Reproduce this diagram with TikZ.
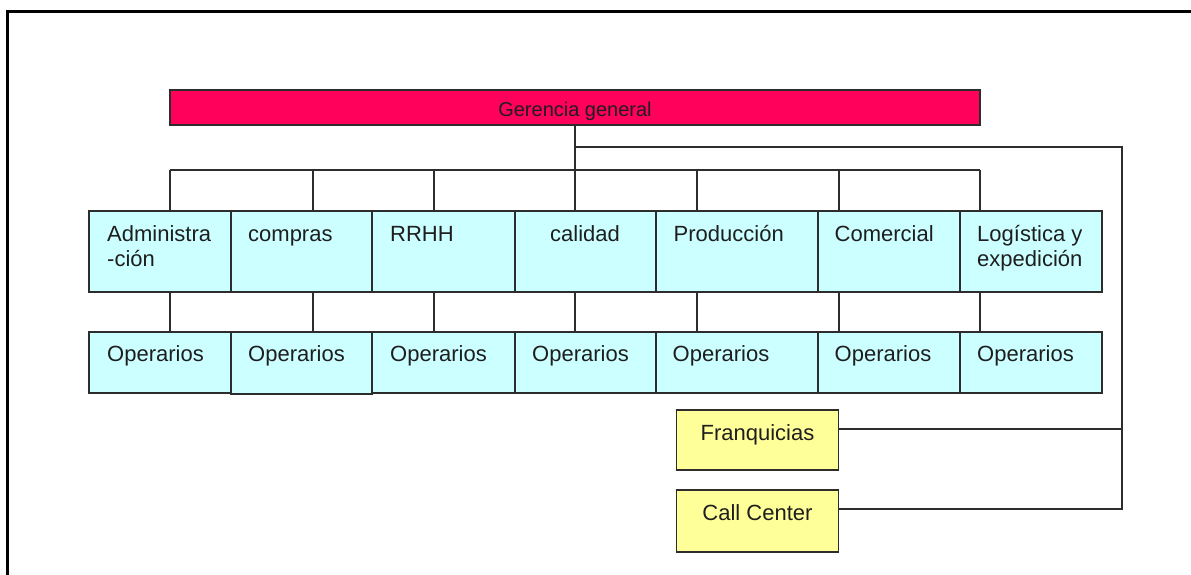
\documentclass[tikz,border=0pt]{standalone}
\usepackage{fontspec}
\setmainfont{Liberation Sans}
\usetikzlibrary{calc}
\definecolor{ger}{RGB}{255,0,90}
\definecolor{cy}{RGB}{204,255,255}
\definecolor{ye}{RGB}{255,255,153}
\definecolor{ln}{RGB}{45,45,45}
\definecolor{tx}{RGB}{30,30,30}
\begin{document}
\begin{tikzpicture}[x=1pt,y=-1pt,
  bx/.style={draw=ln, line width=1.6pt, inner sep=0pt, minimum height=#1},
  cbox/.style={bx=81pt, fill=cy},
  obox/.style={bx=61pt, fill=cy},
  ybox/.style={bx=61pt, fill=ye, minimum width=162pt},
  lbl/.style={anchor=base west, inner sep=0pt, text=tx, font=\fontsize{22}{25}\selectfont},
  conn/.style={draw=ln, line width=1.6pt}
]
\useasboundingbox (0,0) rectangle (1191,575);
\fill[white] (0,0) rectangle (1191,575);
\draw[line width=3pt, black] (7,580) -- (7,12) -- (1195,12);

% top box
\node[bx=35pt, fill=ger, minimum width=810pt] (ger) at (575,107.5) {};
\node[anchor=base, inner sep=0pt, text=tx, font=\fontsize{20}{22}\selectfont] (gert) at (575,117) {Gerencia general};

% row 1
\node[cbox, minimum width=142pt] (adm) at (160,251.5) {};
\node[cbox, minimum width=141pt] (com) at (301.5,251.5) {};
\node[cbox, minimum width=143pt] (rrh) at (443.5,251.5) {};
\node[cbox, minimum width=141pt] (cal) at (585.5,251.5) {};
\node[cbox, minimum width=162pt] (pro) at (737,251.5) {};
\node[cbox, minimum width=142pt] (cml) at (889,251.5) {};
\node[cbox, minimum width=142pt] (log) at (1031,251.5) {};

% row 2
\node[obox, minimum width=142pt] (o1) at (160,362.5) {};
\node[obox, minimum width=143pt] (o3) at (443.5,362.5) {};
\node[obox, minimum width=141pt] (o4) at (585.5,362.5) {};
\node[obox, minimum width=162pt] (o5) at (737,362.5) {};
\node[obox, minimum width=142pt] (o6) at (889,362.5) {};
\node[obox, minimum width=142pt] (o7) at (1031,362.5) {};
\node[bx=62pt, fill=cy, minimum width=141pt] (o2) at (301.5,363) {};

% yellow boxes
\node[ybox, minimum height=60pt] (fr) at (757.5,440) {};
\node[ybox, minimum height=62pt] (cc) at (757.5,521) {};

% labels row 1
\node[lbl] (t1a) at (107,241.5) {Administra};
\node[lbl] (t1b) at (107,266.5) {-ción};
\node[lbl] (t2) at (248,241.5) {compras};
\node[lbl] (t3) at (390,241.5) {RRHH};
\node[lbl] (t4) at (550,241.5) {calidad};
\node[lbl] (t5) at (673.5,241.5) {Producción};
\node[lbl] (t6) at (834.5,241.5) {Comercial};
\node[lbl] (t7a) at (977,241.5) {Logística y};
\node[lbl] (t7b) at (977,266.5) {expedición};

% labels row 2
\node[lbl] (u1) at (107,361.5) {Operarios};
\node[lbl] (u2) at (248,361.5) {Operarios};
\node[lbl] (u3) at (390,361.5) {Operarios};
\node[lbl] (u4) at (532,361.5) {Operarios};
\node[lbl] (u5) at (672.5,361.5) {Operarios};
\node[lbl] (u6) at (834.5,361.5) {Operarios};
\node[lbl] (u7) at (977,361.5) {Operarios};

\node[lbl, anchor=base] (ft) at (757.5,440) {Franquicias};
\node[lbl, anchor=base] (ct) at (757.5,520) {Call Center};

% bus coordinates
\coordinate (b1) at (170,170);
\coordinate (b2) at (313,170);
\coordinate (b3) at (434,170);
\coordinate (b4) at (575,170);
\coordinate (b5) at (697,170);
\coordinate (b6) at (839,170);
\coordinate (b7) at (980,170);
\coordinate (r1) at (1122,147);
\coordinate (fe) at ($(fr.north east)+(0,20)$);
\coordinate (ce) at ($(cc.north east)+(0,20)$);

% connectors
\draw[conn] (b1) -- (b7);
\draw[conn] (ger.south) -- (ger.south |- cal.north);
\draw[conn] (ger.south |- r1) -- (r1) -- (r1 |- ce) -- (ce);
\foreach \b/\u in {b1/adm, b2/com, b3/rrh, b5/pro, b6/cml, b7/log}{
  \draw[conn] (\b) -- (\b |- \u.north);
}
\foreach \b/\u/\l in {b1/adm/o1, b2/com/o2, b3/rrh/o3, b4/cal/o4, b5/pro/o5, b6/cml/o6, b7/log/o7}{
  \draw[conn] (\b |- \u.south) -- (\b |- \l.north);
}
\draw[conn] (fe) -- (fe -| r1);
\end{tikzpicture}
\end{document}
